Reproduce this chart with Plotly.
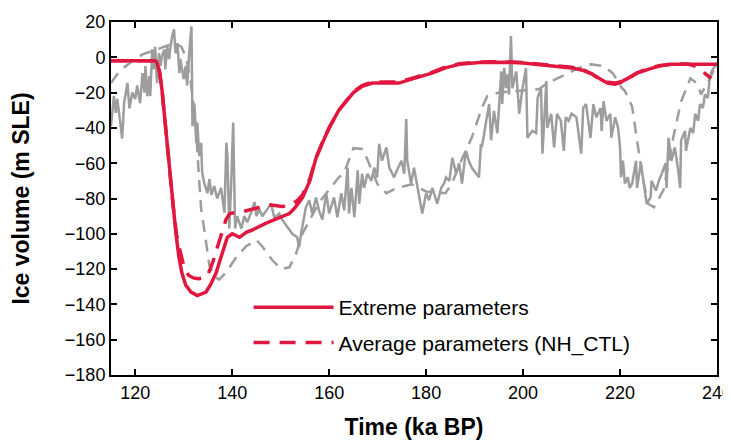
import plotly.graph_objects as go

# ---------------- data ----------------
# Observed / reconstructed sea-level record (grey, noisy)
obs_time = [115, 115.6, 116, 116.3, 117, 117.3, 117.7, 118.4, 118.8, 119.4, 120, 120.4, 121, 121.5,
            121.9, 122.1, 122.5, 122.9, 123.1, 123.5, 123.9, 124.1, 124.5, 124.9, 125.2, 125.5, 126,
            126.2, 126.6, 127, 127.2, 127.6, 128, 128.3, 128.7, 129.1, 129.3, 130, 130.4, 130.7, 131.2,
            131.6, 131.8, 132.2, 132.6, 132.8, 133.2, 133.6, 133.8, 134.2, 134.9, 135.3, 135.7, 136.3,
            136.9, 137.7, 138.4, 138.8, 139, 139.4, 139.8, 140.2, 140.6, 141, 141.9, 142.5, 143.1,
            143.9, 144.6, 145, 145.6, 146.2, 147, 148, 148.7, 149.7, 150.3, 151.4, 152.4, 153.4,
            153.8, 154.2, 155.2, 155.9, 156.5, 157.3, 157.9, 158.6, 159.4, 160, 161, 161.7, 162.5,
            163.1, 163.8, 164.1, 164.6, 165.2, 165.9, 166.2, 166.8, 167.2, 167.9, 168.7, 169.3, 169.9,
            170.3, 170.9, 171.8, 172.4, 173.4, 174, 174.9, 175.5, 175.9, 176.1, 176.9, 177.5, 178.2,
            179.2, 180, 180.6, 181.3, 182.3, 183.1, 183.7, 184.1, 184.8, 185.4, 186.2, 186.8, 187.4,
            188.2, 188.8, 189.4, 190.3, 190.9, 191.3, 191.5, 192.4, 193, 193.4, 194, 194.7, 195.5,
            195.7, 196.1, 196.5, 196.8, 197.1, 197.5, 197.8, 198.6, 199.2, 199.8, 200.6, 200.9, 201.9,
            202.7, 203, 203.7, 204, 204.8, 205, 205.8, 206.4, 207, 207.8, 208.4, 208.8, 209.4, 210,
            211, 212, 212.4, 213, 213.9, 214.5, 215.1, 216, 216.2, 216.6, 217.2, 218, 218.2, 219,
            219.6, 220, 220.2, 220.6, 221, 221.6, 222, 222.5, 223.3, 223.5, 224.3, 224.9, 225.5,
            226.3, 226.5, 227.4, 228, 228.6, 229.4, 229.6, 230, 230.6, 231.3, 232, 232.4, 232.6,
            233.4, 233.6, 234.5, 235.1, 235.5, 236.1, 236.5, 237.1, 237.5, 238.1, 238.5, 238.9, 239.3,
            240]
obs_ice = [-39, -22, -31.5, -23.6, -39, -46, -26, -14.6, -29, -20, -23.6, -16, -26, -9,
           -20, -5, -22, -10.7, -22, 4.5, -6.8, 6, -14.6, 2.3, -5, 0.5, 4.5,
           -6.8, 6, -1, 4.5, 11.8, 15.8, 2.3, 8, -9, -1, -12.4, -5, -16, 4.5,
           17.5, -39, -26, -48.5, -37, -56, -48.5, -65, -71, -77, -69, -78, -73,
           -80, -74, -88, -48.5, -56, -97, -71, -37, -97, -90, -97, -90, -93.5,
           -88, -82, -90, -86, -90, -87, -83, -91, -88.5, -92, -96, -100, -102,
           -107.5, -100, -85, -81, -88.5, -79.4, -86.7, -92, -77, -88.5, -79.4, -90.6, -77,
           -86.7, -62.5, -88.5, -74, -90.6, -64, -83, -66, -74, -66, -70, -62.5, -68,
           -49, -58.6, -51, -62.5, -68, -64, -58.6, -66, -35, -58.6, -71.5, -62.5, -74,
           -88.5, -77, -81, -74, -83, -74, -71.5, -68, -70, -57, -66, -60, -71.5,
           -53, -58.6, -62.5, -66, -68, -49, -51, -36, -26.5, -47, -30.4, -43, -8,
           -26.5, -6, -17.5, -9.6, -21, 12, -17.5, -8, -32, -19, -6, -45.6, -41.7,
           -43, -23, -17.5, -54.6, -13.5, -40, -32, -51, -32, -36, -53, -34, -36, -32,
           -34, -54.6, -28.7, -26.5, -45.6, -26.5, -34, -28.7, -41.7, -24.8, -36, -32, -45.6, -34,
           -40, -51, -68, -58.6, -71.5, -68, -74, -71.5, -58.6, -74, -60, -71.5, -83,
           -79.4, -70, -75.5, -70, -66, -60, -74, -45.6, -58.6, -51, -64, -74, -47,
           -41.7, -53, -40, -43, -32, -36, -26.5, -28.7, -21, -23, -11.8, -8, -6,
           -4]

# Reference simulation (grey dashed)
ref_time = [115, 116.7, 118.8, 121.5, 124, 126, 128, 129.5, 130.5, 131.5, 132.5, 133.2, 133.6, 134.2,
            134.6, 135.3, 136.3, 137.3, 138.7, 140.9, 142.9, 145, 146.3, 148.3, 150.1, 151.8, 153.2,
            154.5, 156, 158, 160, 162, 163, 165, 167, 168.5, 170, 171.8, 174, 177, 180, 184, 185.4,
            187, 189.4, 191.5, 192.6, 195, 199, 203.3, 204.7, 208, 211.5, 214, 216.6, 218.5, 220.4,
            221, 222.5, 223.5, 224.8, 225.8, 227, 229, 231, 232.6, 234.5, 236, 236.7, 238.5, 240]
ref_ice = [-14.6, -8, -3.4, 1.7, 4, 6, 8, 6, 0, -15, -40, -70, -86, -97,
           -105, -118, -124, -126, -122, -113, -107, -103.5, -107.5, -115, -120, -119, -111,
           -100, -92, -82, -75, -68, -66, -51.5, -52, -62, -72, -77, -74, -72, -76, -77, -71,
           -60, -45.6, -28.7, -22, -20, -19, -18, -15.2, -10.7, -6, -4, -5, -9, -17.5,
           -19, -28, -47, -70, -83, -85, -75, -45, -25, -12, -15, -21, -12, -4]

# Extreme parameters (red solid)
ext_time = [115, 120, 124, 124.4, 125, 125.5, 126, 126.6, 127.2, 127.8, 128.4, 129, 129.6, 130.4,
            131.5, 132.8, 134, 134.6, 135.5, 136.7, 137.6, 138.4, 139, 140, 141.5, 143, 144, 147,
            149.7, 151.8, 153, 154.5, 156, 157.3, 158.7, 160, 162, 163.8, 165, 166.8, 168.9, 172,
            174.4, 177, 181.2, 184, 186.8, 191, 196.5, 200, 203.3, 207, 210, 212.5, 214.3, 216, 217,
            219, 220.5, 221.7, 223.5, 225.8, 228, 230.6, 236, 240]
ext_ice = [-2, -2, -2, -2.5, -8, -18, -33, -50, -67, -85, -100, -113, -122, -129,
           -133, -135, -133.5, -133, -129, -122, -114, -107.5, -102, -100, -102, -99, -98, -94,
           -91, -88.5, -85, -79.5, -70, -57, -48, -40, -30, -24, -20, -16.5, -14.6, -14.5,
           -14.6, -12.4, -9, -6, -4, -3, -2.8, -3.2, -4, -5, -6, -7.5, -9.6, -12.5, -14,
           -14.6, -13.5, -11.8, -9, -6.8, -5, -4, -4, -4]

# Average parameters, NH_CTL (red dashed)
avg_time = [115, 120, 124, 124.4, 125, 125.5, 126, 126.6, 127.2, 127.8, 128.5, 129, 130, 131, 132,
            133, 134, 134.9, 136, 137.3, 138, 138.7, 139.5, 142, 145, 147.6, 150.3, 152, 153.5,
            154.5, 156, 157.3, 158.7, 160, 162, 163.8, 165, 166.8, 168.9, 172, 174.4, 177, 181.2,
            184, 186.8, 191, 196.5, 200, 203.3, 207, 210, 212.5, 214.3, 216, 217, 219, 220.5, 221.7,
            223.5, 225.8, 228, 230.6, 234, 235.5, 236.7, 237.7, 238.8]
avg_ice = [-2, -2, -2, -2.5, -8, -18, -33, -50, -67, -84, -100, -107, -118, -123.5, -125,
           -125.5, -125, -124, -116, -104, -97, -92, -88.5, -87.5, -85.5, -83.5, -84.5, -84, -81,
           -78, -69, -57, -47.5, -40, -30, -23.5, -19.5, -16, -14, -14, -14, -12, -8.5,
           -5.5, -3.7, -2.7, -2.5, -3, -3.7, -4.6, -5.6, -7.2, -9.6, -12.8, -14.5, -15.2, -14, -12,
           -8.8, -6.5, -4.8, -3.8, -3.8, -5, -7, -9.6, -12]

x_ticks = [120, 140, 160, 180, 200, 220, 240]
y_ticks = [20, 0, -20, -40, -60, -80, -100, -120, -140, -160, -180]

RED = "#E0173F"
GREY = "#9d9d9d"
FONT = "Liberation Sans, Arial, sans-serif"

fig = go.Figure()
fig.add_trace(go.Scatter(x=ref_time, y=ref_ice, mode="lines", showlegend=False,
                         line=dict(color=GREY, width=2.5, dash="12px,8px")))
fig.add_trace(go.Scatter(x=obs_time, y=obs_ice, mode="lines", showlegend=False,
                         line=dict(color=GREY, width=2.5)))
fig.add_trace(go.Scatter(x=avg_time, y=avg_ice, mode="lines", name="Average parameters (NH_CTL)",
                         legendgroup="b", legendrank=2,
                         line=dict(color=RED, width=3.5, dash="16px,10px")))
fig.add_trace(go.Scatter(x=ext_time, y=ext_ice, mode="lines", name="Extreme parameters",
                         legendgroup="a", legendrank=1,
                         line=dict(color=RED, width=3.5)))

axis_common = dict(showline=True, linecolor="black", linewidth=2, mirror="allticks",
                   ticks="inside", ticklen=6, tickwidth=1.5, tickcolor="black",
                   showgrid=False, zeroline=False, automargin=False,
                   ticklabeloverflow="allow",
                   tickfont=dict(family=FONT, size=18, color="black"))

fig.update_xaxes(range=[115, 240], tickvals=x_ticks,
                 title=dict(text="<b>Time (ka BP)</b>", font=dict(family=FONT, size=23, color="black"),
                            standoff=17),
                 **axis_common)
fig.update_yaxes(range=[-180, 20], tickvals=y_ticks,
                 title=dict(text="<b>Ice volume (m SLE)</b>", font=dict(family=FONT, size=23, color="black"),
                            standoff=30),
                 **axis_common)

# the page body adds an 8 px offset, margins compensate for it
fig.update_layout(
    width=731, height=443,
    margin=dict(l=103, r=22, t=14, b=76),
    plot_bgcolor="white", paper_bgcolor="white",
    font=dict(family=FONT, color="black"),
    legend=dict(x=0.227, y=0.249, xanchor="left", yanchor="top", bgcolor="rgba(0,0,0,0)",
                font=dict(family=FONT, size=21, color="black"), itemwidth=80,
                tracegroupgap=5, traceorder="grouped"),
)

fig.write_html("out.html")
